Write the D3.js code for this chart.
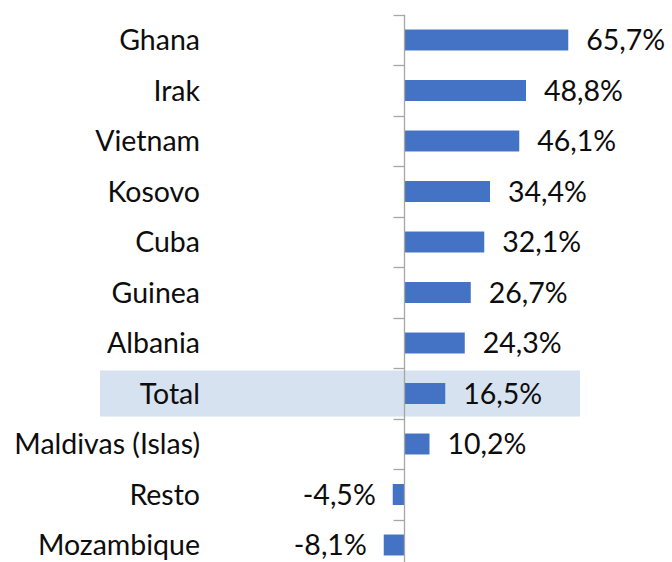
<!DOCTYPE html>
<html>
<head>
<meta charset="utf-8">
<script src="https://cdn.jsdelivr.net/npm/d3@7"></script>
<style>
  body { margin: 0; background: #fff; }
  text { font-family: Lato, "Open Sans", sans-serif; fill: #0d0d0d; }
</style>
</head>
<body>
<script>
var w = 672;
var h = 562;

// data
var countries = ["Ghana", "Irak", "Vietnam", "Kosovo", "Cuba", "Guinea", "Albania",
                 "Total", "Maldivas (Islas)", "Resto", "Mozambique"];
var values = [65.7, 48.8, 46.1, 34.4, 32.1, 26.7, 24.3, 16.5, 10.2, -4.5, -8.1];
var highlight = "Total";

var rows = countries.map(function(c, i) { return {name: c, value: values[i]}; });

var svg = d3.select("body")
            .append("svg")
            .attr("width", w)
            .attr("height", h);

// scales
var x = d3.scaleLinear()
          .domain([-8.1, 65.7])
          .range([383.75, 568.25]);

var y = d3.scaleBand()
          .domain(countries)
          .range([14.75, 570.25])
          .paddingInner(0.585)
          .paddingOuter(0.2925);

var step = y.step();

// highlight band for Total
svg.append("rect")
   .attr("x", 100)
   .attr("width", 480)
   .attr("y", y(highlight) + y.bandwidth() / 2 - 23)
   .attr("height", 46)
   .style("fill", "#d6e2ef");

// bars
svg.selectAll("rect.bar")
   .data(rows)
   .enter()
   .append("rect")
   .attr("class", "bar")
   .attr("x", function(d) { return x(Math.min(0, d.value)); })
   .attr("width", function(d) { return Math.abs(x(d.value) - x(0)); })
   .attr("y", function(d) { return y(d.name); })
   .attr("height", y.bandwidth())
   .style("fill", "#4472c4");

// axis (category axis at zero, ticks between categories)
var x0 = Math.round(x(0)) + 0.5;
svg.append("line")
   .attr("x1", x0).attr("x2", x0)
   .attr("y1", 14.75).attr("y2", 570)
   .style("stroke", "#a6a6a6")
   .style("stroke-width", 1.3);

var tickPos = d3.range(countries.length + 1).map(function(i) { return 14.75 + i * step; });
svg.selectAll("line.tick")
   .data(tickPos)
   .enter()
   .append("line")
   .attr("class", "tick")
   .attr("x1", x0 - 11).attr("x2", x0)
   .attr("y1", function(d) { return Math.round(d) + 0.5; })
   .attr("y2", function(d) { return Math.round(d) + 0.5; })
   .style("stroke", "#a6a6a6")
   .style("stroke-width", 1.3);

// category labels
svg.selectAll("text.cat")
   .data(rows)
   .enter()
   .append("text")
   .attr("class", "cat")
   .attr("x", 200)
   .attr("y", function(d) { return y(d.name) + y.bandwidth() / 2; })
   .attr("dy", "0.36em")
   .attr("text-anchor", "end")
   .style("font-size", "28.5px")
   .text(function(d) { return d.name; });

// value labels
var fmt = function(v) { return v.toFixed(1).replace(".", ",") + "%"; };
svg.selectAll("text.val")
   .data(rows)
   .enter()
   .append("text")
   .attr("class", "val")
   .attr("x", function(d) { return d.value >= 0 ? x(d.value) + 18 : x(d.value) - 17; })
   .attr("y", function(d) { return y(d.name) + y.bandwidth() / 2; })
   .attr("dy", "0.36em")
   .attr("text-anchor", function(d) { return d.value >= 0 ? "start" : "end"; })
   .style("font-size", "28.5px")
   .text(function(d) { return fmt(d.value); });
</script>
</body>
</html>
